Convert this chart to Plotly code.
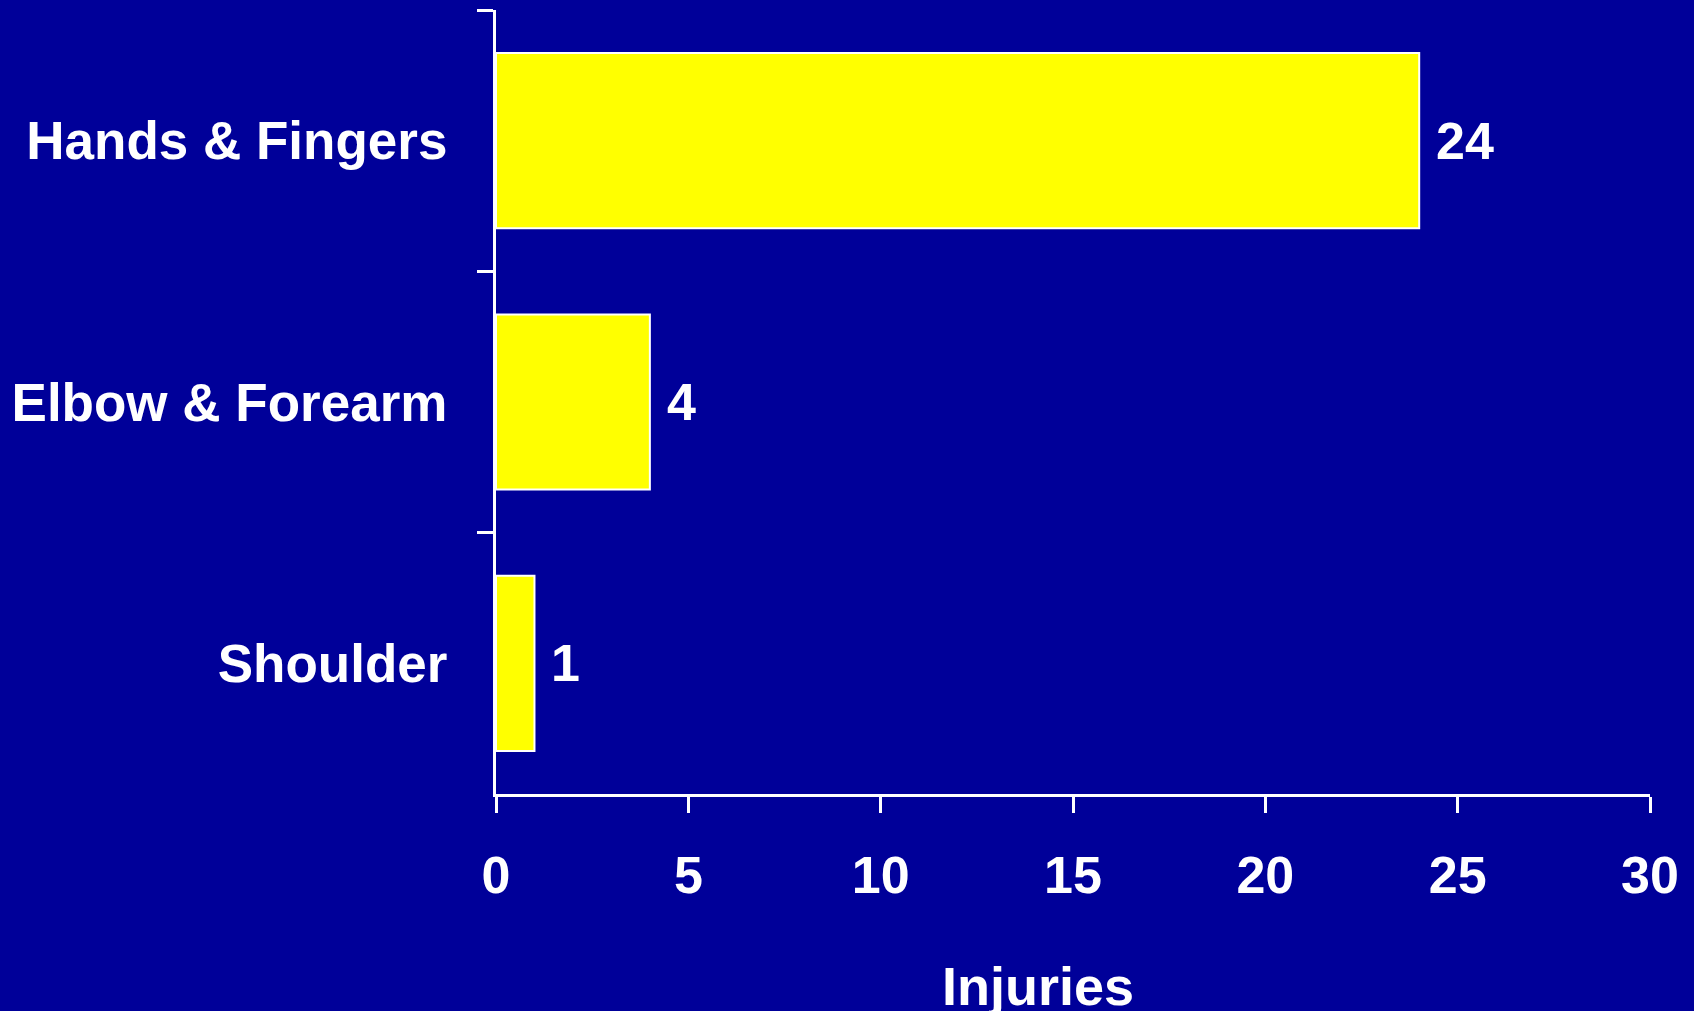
import plotly.graph_objects as go

BG = "#000099"
YELLOW = "#FFFF00"
FONT = "Liberation Sans, Arial, sans-serif"

categories = ["Hands & Fingers", "Elbow & Forearm", "Shoulder"]
injuries = [24, 4, 1]
x_ticks = [0, 5, 10, 15, 20, 25, 30]

fig = go.Figure()

fig.add_trace(go.Bar(
    x=injuries, y=categories, orientation="h",
    marker=dict(color=YELLOW, line=dict(color="white", width=2)),
    showlegend=False,
))

# value labels to the right of each bar
for cat, val in zip(categories, injuries):
    fig.add_annotation(
        x=val, y=cat, text=str(val), showarrow=False,
        xanchor="left", yanchor="middle", xshift=15,
        font=dict(family=FONT, size=52, color="white", weight="bold"),
    )

fig.add_annotation(
    text="Injuries", xref="paper", yref="paper", x=0.47, y=-0.245,
    showarrow=False, xanchor="center", yanchor="middle",
    font=dict(family=FONT, size=54, color="white", weight="bold"),
)

fig.update_layout(
    width=1694, height=1011,
    paper_bgcolor=BG, plot_bgcolor=BG,
    margin=dict(l=496, r=44, t=10, b=217),
    bargap=0.33,
    font=dict(family=FONT, size=52, color="white", weight="bold"),
)

fig.update_xaxes(
    range=[0, 30], tickvals=x_ticks, showgrid=False, zeroline=False,
    showline=True, linecolor="white", linewidth=3,
    ticks="outside", ticklen=16, tickwidth=3, tickcolor="white",
    ticklabelstandoff=18,
)
fig.update_yaxes(
    autorange="reversed", showgrid=False, zeroline=False,
    showline=True, linecolor="white", linewidth=3,
    ticks="outside", ticklen=16, tickwidth=3, tickcolor="white",
    tickson="boundaries", ticklabelstandoff=35,
    tickfont=dict(size=53),
)

fig.write_html(
    "out.html",
    config=dict(displayModeBar=False),
    post_script="document.body.style.margin='0';document.body.style.background='#000099';",
)
